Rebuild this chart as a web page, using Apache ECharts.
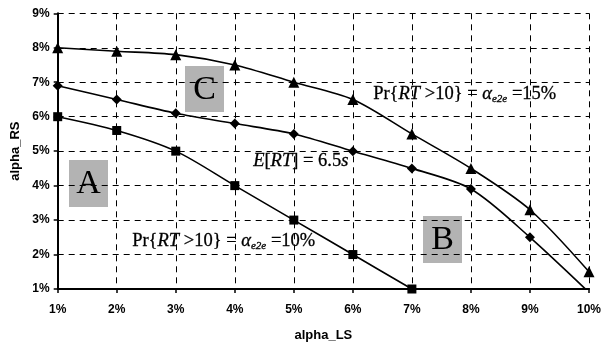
<!DOCTYPE html>
<html><head><meta charset="utf-8">
<script src="https://cdn.jsdelivr.net/npm/echarts@6/dist/echarts.min.js"></script>
<style>html,body{margin:0;padding:0;background:#fff}#c{width:604px;height:347px}</style>
</head><body><div id="c"></div>
<script>
const xValues = [1, 2, 3, 4, 5, 6, 7, 8, 9, 10];
const seriesPr15 = [8.0, 7.9, 7.8, 7.5, 7.0, 6.5, 5.5, 4.5, 3.3, 1.5];
const seriesERT = [6.9, 6.5, 6.1, 5.8, 5.5, 5.0, 4.5, 3.9, 2.5, 0.9];
const seriesPr10 = [6.0, 5.6, 5.0, 4.0, 3.0, 2.0, 1.0];
const xTicks = [1, 10, 1];
const yTicks = [1, 9, 1];

const pairs = (ys) => ys.map((v, i) => [xValues[i], v]);
const chart = echarts.init(document.getElementById('c'), null, {renderer: 'canvas'});
const serif = 'Liberation Serif';
const sans = 'Liberation Sans';
const lineStyle = {color: '#000', width: 1.6};
const FS = 18.5;
const rich = {
  i: {fontFamily: serif, fontSize: FS, fontStyle: 'italic', color: '#000'},
  s: {fontFamily: serif, fontSize: FS * 0.6, fontStyle: 'italic', color: '#000', padding: [10, 0, 0, 0]}
};
const formula = (x, y, txt) => ({
  type: 'text', left: x, top: y,
  style: {text: txt, rich, fontFamily: serif, fontSize: FS, fill: '#000', stroke: '#000', lineWidth: 0.3}
});
const box = (x, y, w, h, letter) => ({
  type: 'group', left: x, top: y, children: [
    {type: 'rect', shape: {x: 0, y: 0, width: w, height: h}, style: {fill: '#b3b3b3'}},
    {type: 'text', x: w / 2, y: h / 2 + 1, style: {text: letter, fontFamily: serif, fontSize: 34, fill: '#000', align: 'center', verticalAlign: 'middle'}}
  ]
});
chart.setOption({
  animation: false,
  grid: {left: 57.7, right: 12.7, top: 13.3, bottom: 57},
  xAxis: {
    type: 'value', min: xTicks[0], max: xTicks[1], interval: xTicks[2],
    name: 'alpha_LS', nameLocation: 'middle', nameGap: 40,
    nameTextStyle: {fontFamily: sans, fontWeight: 'bold', fontSize: 13, color: '#000'},
    axisLine: {lineStyle: {color: '#000', width: 2}},
    axisTick: {show: true, length: 4, lineStyle: {color: '#000', width: 1.5}},
    axisLabel: {formatter: '{value}%', fontFamily: sans, fontWeight: 'bold', fontSize: 12, color: '#000', margin: 15},
    splitLine: {show: true, lineStyle: {color: '#000', type: [6, 5], width: 1}}
  },
  yAxis: {
    type: 'value', min: yTicks[0], max: yTicks[1], interval: yTicks[2],
    name: 'alpha_RS', nameLocation: 'middle', nameGap: 31,
    nameTextStyle: {fontFamily: sans, fontWeight: 'bold', fontSize: 13, color: '#000'},
    axisLine: {show: true, lineStyle: {color: '#000', width: 2}},
    axisTick: {show: true, length: 4, lineStyle: {color: '#000', width: 1.5}},
    axisLabel: {formatter: '{value}%', fontFamily: sans, fontWeight: 'bold', fontSize: 12, color: '#000', margin: 8},
    splitLine: {show: true, lineStyle: {color: '#000', type: [6, 5], width: 1}}
  },
  series: [
    {type: 'line', data: pairs(seriesPr15), smooth: 0.3, symbol: 'triangle', symbolSize: 11, lineStyle, itemStyle: {color: '#000'}},
    {type: 'line', data: pairs(seriesERT), smooth: 0.3, symbol: 'diamond', symbolSize: 10, lineStyle, itemStyle: {color: '#000'}},
    {type: 'line', data: pairs(seriesPr10), smooth: 0.3, symbol: 'rect', symbolSize: 9, lineStyle, itemStyle: {color: '#000'}}
  ],
  graphic: [
    box(69, 160, 39, 47, 'A'),
    box(423, 216, 39, 47, 'B'),
    box(185, 66, 39, 46, 'C'),
    formula(373, 84, 'Pr{{i|RT} >10} = {i|\u03B1}{s|e2e} =15%'),
    formula(132, 231, 'Pr{{i|RT} >10} = {i|\u03B1}{s|e2e} =10%'),
    formula(253, 151, '{i|E}[{i|RT}] = 6.5{i|s}')
  ]
});
</script></body></html>
